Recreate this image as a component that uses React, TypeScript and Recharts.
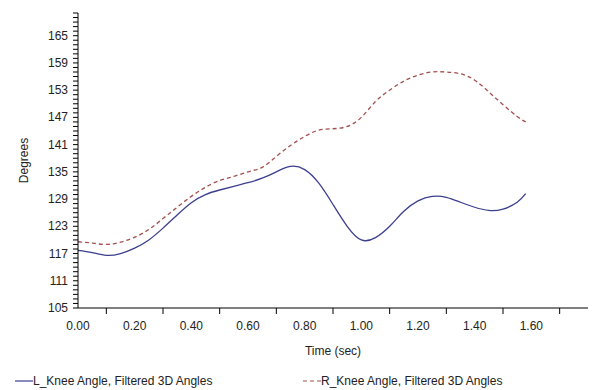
import { LineChart, Line, XAxis, YAxis, Legend } from "recharts";

// time (sec)
const TIME = [
  0, 0.05, 0.1, 0.15, 0.2, 0.25, 0.3, 0.35, 0.4, 0.45, 0.5, 0.55, 0.6, 0.65, 0.7, 0.75,
  0.8, 0.85, 0.9, 0.95, 1.0, 1.05, 1.1, 1.15, 1.2, 1.25, 1.3, 1.35, 1.4, 1.45, 1.5, 1.55, 1.58,
];

// L_Knee Angle, Filtered 3D Angles
const L_KNEE = [
  117.7, 117.2, 116.6, 117.0, 118.2, 120.0, 122.6, 125.5, 128.2, 130.0, 131.0, 131.8, 132.6,
  133.6, 135.0, 136.2, 135.5, 132.5, 127.8, 123.0, 120.0, 120.5, 123.0, 126.3, 128.6, 129.6,
  129.4, 128.3, 127.2, 126.5, 126.8, 128.3, 130.2,
];

// R_Knee Angle, Filtered 3D Angles
const R_KNEE = [
  119.6, 119.3, 119.0, 119.5, 120.6, 122.3, 124.7, 127.2, 129.6, 131.6, 133.1, 134.0, 135.0,
  136.0, 138.4, 140.8, 142.8, 144.2, 144.5, 145.0, 147.0, 150.5, 153.0, 155.0, 156.3, 157.0,
  157.0, 156.6, 155.2, 152.6, 149.8, 147.2, 146.0,
];

const X_LABELS = [0, 0.2, 0.4, 0.6, 0.8, 1.0, 1.2, 1.4, 1.6];
const X_MINOR = [0.1, 0.3, 0.5, 0.7, 0.9, 1.1, 1.3, 1.5, 1.7];
const Y_LABELS = [105, 111, 117, 123, 129, 135, 141, 147, 153, 159, 165];

const SERIES = [
  { key: "left", name: "L_Knee Angle, Filtered 3D Angles", color: "#3b3f8e", dash: undefined },
  { key: "right", name: "R_Knee Angle, Filtered 3D Angles", color: "#a4504e", dash: "4 3" },
];

const FONT = "'Liberation Sans', Arial, sans-serif";

const data = TIME.map((t, i) => ({ t, left: L_KNEE[i], right: R_KNEE[i] }));

// every degree gets a small tick mark, labels only every 6
const yTicks = Array.from({ length: 66 }, (_, i) => 105 + i);
const xTicks = [...X_LABELS, ...X_MINOR].sort((a, b) => a - b);

const XTick = ({ x, y, payload }: any) => {
  const v = Math.round(payload.value * 10) / 10;
  const labeled = X_LABELS.includes(v);
  return (
    <g>
      {!labeled && <line x1={x} x2={x} y1={y} y2={y + 6} stroke="#000" />}
      {labeled && (
        <text x={x} y={y + 22} textAnchor="middle" fontSize={12} fill="#222" fontFamily={FONT}>
          {v.toFixed(2)}
        </text>
      )}
    </g>
  );
};

const YTick = ({ x, y, payload }: any) => {
  const labeled = Y_LABELS.includes(payload.value);
  return (
    <g>
      <line x1={x - 5} x2={x} y1={y} y2={y} stroke="#000" />
      {labeled && (
        <text x={x - 10} y={y + 4} textAnchor="end" fontSize={12} fill="#222" fontFamily={FONT}>
          {payload.value}
        </text>
      )}
    </g>
  );
};

const LegendContent = () => (
  <div style={{ position: "relative", height: 30, fontFamily: FONT, fontSize: 12, color: "#222" }}>
    {SERIES.map((s, i) => (
      <div
        key={s.key}
        style={{ position: "absolute", left: i === 0 ? 15 : 303, top: 14, display: "flex", alignItems: "center" }}
      >
        <svg width={18} height={10}>
          <line x1={0} x2={18} y1={5} y2={5} stroke={s.color} strokeWidth={1.2} strokeDasharray={s.dash} />
        </svg>
        <span>{s.name}</span>
      </div>
    ))}
  </div>
);

const App = () => (
  <div style={{ position: "absolute", left: 0, top: 0, background: "#fff" }}>
    <LineChart width={592} height={390} data={data} margin={{ top: 13, right: 4, bottom: 0, left: 0 }}>
      <XAxis
        dataKey="t"
        type="number"
        domain={[0, 1.8]}
        ticks={xTicks}
        interval={0}
        tickSize={0}
        tickMargin={0}
        tick={<XTick />}
        stroke="#000"
        height={52}
        label={{ value: "Time (sec)", position: "insideTop", offset: 38, fontSize: 12, fill: "#222", fontFamily: FONT }}
      />
      <YAxis
        type="number"
        domain={[105, 170]}
        ticks={yTicks}
        interval={0}
        tickSize={0}
        tickMargin={0}
        tick={<YTick />}
        stroke="#000"
        width={78}
        label={{
          value: "Degrees",
          angle: -90,
          position: "insideLeft",
          offset: 24,
          fontSize: 12,
          fill: "#222",
          fontFamily: FONT,
          style: { textAnchor: "middle" },
        }}
      />
      <Legend verticalAlign="bottom" height={30} content={<LegendContent />} />
      {SERIES.map((s) => (
        <Line
          key={s.key}
          dataKey={s.key}
          name={s.name}
          type="natural"
          stroke={s.color}
          strokeWidth={1.3}
          strokeDasharray={s.dash}
          dot={false}
          isAnimationActive={false}
        />
      ))}
    </LineChart>
  </div>
);

export default App;
